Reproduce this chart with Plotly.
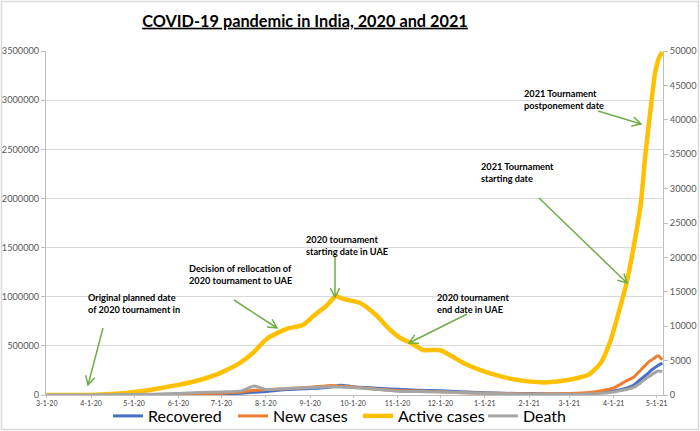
import math
import plotly.graph_objects as go

# ---------------- data ----------------
active_dates = ["2020-03-01", "2020-03-15", "2020-03-30", "2020-04-15", "2020-05-03", "2020-05-20",
                "2020-05-31", "2020-06-16", "2020-06-30", "2020-07-14", "2020-07-23", "2020-08-02",
                "2020-08-16", "2020-08-27", "2020-09-03", "2020-09-13", "2020-09-19", "2020-09-24",
                "2020-10-06", "2020-10-17", "2020-10-27", "2020-11-03", "2020-11-10", "2020-11-19",
                "2020-12-01", "2020-12-17", "2021-01-01", "2021-01-17", "2021-02-02", "2021-02-14",
                "2021-02-28", "2021-03-14", "2021-03-23", "2021-03-30", "2021-04-05", "2021-04-10",
                "2021-04-13", "2021-04-20", "2021-04-23", "2021-04-27", "2021-04-30", "2021-05-03",
                "2021-05-05"]
active_cases = [0, 100, 1000, 9000, 34000, 71000,
                100000, 153000, 222000, 326000, 427000, 575000,
                675000, 712000, 800000, 916000, 1007000, 977000,
                936000, 814000, 661000, 580000, 532000, 458000,
                455000, 326000, 237000, 172000, 136000, 129000,
                153000, 203000, 326000, 560000, 865000, 1140000,
                1350000, 1950000, 2420000, 2930000, 3280000, 3440000,
                3490000]

flow_dates = ["2020-03-01", "2020-03-30", "2020-04-15", "2020-05-01", "2020-05-15", "2020-06-01",
              "2020-06-15", "2020-07-01", "2020-07-15", "2020-07-24", "2020-08-01", "2020-08-15",
              "2020-09-01", "2020-09-16", "2020-09-22", "2020-10-01", "2020-10-15", "2020-11-01",
              "2020-11-15", "2020-12-01", "2020-12-15", "2021-01-01", "2021-01-15", "2021-02-01",
              "2021-02-15", "2021-03-01", "2021-03-15", "2021-04-01", "2021-04-10", "2021-04-15",
              "2021-04-20", "2021-04-25", "2021-04-28", "2021-05-02", "2021-05-05"]
new_cases = [0, 200, 1000, 2000, 3900, 8000,
             11000, 18500, 30000, 48000, 55000, 64000,
             78000, 97000, 90000, 81000, 64000, 46000,
             40000, 32000, 24000, 19000, 15000, 11000,
             11600, 15500, 26000, 72000, 145000, 180000,
             255000, 330000, 360000, 400000, 357000]
recovered = [0, 50, 200, 1000, 2500, 4500,
             7000, 12000, 18000, 28000, 35000, 55000,
             65000, 82000, 100000, 85000, 72000, 58000,
             48000, 42000, 32000, 22000, 17000, 14000,
             11000, 12000, 17000, 40000, 70000, 100000,
             160000, 220000, 260000, 300000, 325000]
death = [0, 10, 40, 80, 120, 230,
         350, 450, 600, 1300, 800, 950,
         1050, 1200, 1150, 1100, 850, 550,
         500, 450, 350, 250, 180, 120,
         100, 110, 150, 450, 800, 1100,
         1800, 2600, 3000, 3500, 3400]

tick_dates = ["2020-03-01", "2020-04-01", "2020-05-01", "2020-06-01", "2020-07-01", "2020-08-01",
              "2020-09-01", "2020-10-01", "2020-11-01", "2020-12-01", "2021-01-01", "2021-02-01",
              "2021-03-01", "2021-04-01", "2021-05-01"]
tick_labels = ["3-1-20", "4-1-20", "5-1-20", "6-1-20", "7-1-20", "8-1-20", "9-1-20", "10-1-20",
               "11-1-20", "12-1-20", "1-1-21", "2-1-21", "3-1-21", "4-1-21", "5-1-21"]

left_ticks = [0, 500000, 1000000, 1500000, 2000000, 2500000, 3000000, 3500000]
right_ticks = [0, 5000, 10000, 15000, 20000, 25000, 30000, 35000, 40000, 45000, 50000]

notes = ["Original planned date<br>of 2020 tournament in",
         "Decision of rellocation of<br>2020 tournament to UAE",
         "2020 tournament<br>starting date in UAE",
         "2020 tournament<br>end date in UAE",
         "2021 Tournament<br>starting date",
         "2021 Tournament<br>postponement date"]

# ---------------- layout geometry ----------------
W, H = 700, 431
L, R, T, B = 46, 663, 51, 395
FONT = "Lato"


def px_x(x):
    return (x - L) / (R - L)


def px_y(y):
    return (B - y) / (B - T)


fig = go.Figure()
fig.add_trace(go.Scatter(x=flow_dates, y=recovered, name="Recovered", mode="lines",
                         line=dict(color="#4472C4", width=3, shape="spline", smoothing=0.6)))
fig.add_trace(go.Scatter(x=flow_dates, y=new_cases, name="New cases", mode="lines",
                         line=dict(color="#ED7D31", width=3, shape="spline", smoothing=0.6)))
fig.add_trace(go.Scatter(x=active_dates, y=active_cases, name="Active cases", mode="lines",
                         line=dict(color="#FFC000", width=4.5, shape="spline", smoothing=0.6)))
fig.add_trace(go.Scatter(x=flow_dates, y=death, name="Death", mode="lines", yaxis="y2",
                         line=dict(color="#A5A5A5", width=3, shape="spline", smoothing=0.6)))

# text notes
note_pos = [(86, 303), (187, 274.5), (304, 245), (435, 303), (479, 172), (522, 99)]
for txt, (x, y) in zip(notes, note_pos):
    fig.add_annotation(text="<b>" + txt + "</b>", xref="paper", yref="paper",
                       x=px_x(x), y=px_y(y), xanchor="left", yanchor="middle",
                       showarrow=False, align="left",
                       font=dict(family=FONT, size=9.2, color="#000000"))

# green arrows with open heads
arrows = [((103, 328), (88, 385)), ((234, 300), (277, 328)), ((335, 256), (335, 297)),
          ((467, 314), (409, 343)), ((539, 198), (627, 283)), ((598, 111), (641, 124))]
shapes = []
for (x0, y0), (x1, y1) in arrows:
    dx, dy = x1 - x0, y1 - y0
    d = math.hypot(dx, dy)
    ux, uy = dx / d, dy / d
    hl, ang = 10, math.radians(28)
    pts = []
    for s in (1, -1):
        ca, sa = math.cos(s * ang), math.sin(s * ang)
        bx = -(ux * ca - uy * sa) * hl
        by = -(ux * sa + uy * ca) * hl
        pts.append((x1 + bx, y1 + by))
    path = "M {} {} L {} {} M {} {} L {} {} L {} {}".format(
        px_x(x0), px_y(y0), px_x(x1), px_y(y1),
        px_x(pts[0][0]), px_y(pts[0][1]), px_x(x1), px_y(y1), px_x(pts[1][0]), px_y(pts[1][1]))
    shapes.append(dict(type="path", xref="paper", yref="paper", path=path,
                       line=dict(color="#70AD47", width=1.5)))

# chart border
shapes.append(dict(type="rect", xref="paper", yref="paper",
                   x0=px_x(1.5), x1=px_x(W - 1.5), y0=px_y(H - 1.5), y1=px_y(1.5),
                   line=dict(color="#D9D9D9", width=1.5), layer="below"))

fig.update_layout(
    width=W, height=H,
    margin=dict(l=L, r=W - R, t=T, b=H - B, pad=0, autoexpand=False),
    paper_bgcolor="white", plot_bgcolor="white",
    font=dict(family=FONT, color="#595959"),
    title=dict(text="<b><u>COVID-19 pandemic in India, 2020 and 2021</u></b>",
               x=305 / W, xref="container", xanchor="center",
               y=1 - 21 / H, yref="container", yanchor="middle",
               font=dict(family=FONT, size=16.3, color="#000000")),
    xaxis=dict(type="date", range=["2020-02-29 12:00", "2021-05-05 12:00"],
               tickvals=tick_dates, ticktext=tick_labels, tickangle=0, automargin=False,
               tickfont=dict(size=7, family=FONT, color="#404040"),
               showgrid=False, showline=True, linecolor="#BFBFBF", linewidth=1,
               ticks="outside", ticklen=2, tickcolor="#BFBFBF", zeroline=False),
    yaxis=dict(range=[0, 3500000], tickvals=left_ticks, ticktext=[str(v) for v in left_ticks],
               tickfont=dict(size=9.2, family=FONT, color="#595959"), automargin=False,
               showgrid=True, gridcolor="#D9D9D9", gridwidth=1,
               showline=True, linecolor="#BFBFBF", ticks="outside", ticklen=4,
               tickcolor="#BFBFBF", zeroline=False),
    yaxis2=dict(range=[0, 50000], overlaying="y", side="right", tickvals=right_ticks,
                ticktext=[str(v) for v in right_ticks], automargin=False,
                tickfont=dict(size=9.2, family=FONT, color="#595959"),
                showgrid=False, showline=True, linecolor="#BFBFBF", ticks="outside",
                ticklen=4, tickcolor="#BFBFBF", zeroline=False),
    legend=dict(orientation="h", x=px_x(108), xanchor="left", y=px_y(416), yanchor="middle",
                font=dict(family=FONT, size=16, color="#000000"), bgcolor="rgba(0,0,0,0)",
                itemwidth=30, tracegroupgap=0, entrywidth=80, entrywidthmode="pixels"),
    shapes=shapes,
    showlegend=True,
)

fig.write_html("out.html", config={"displayModeBar": False},
               post_script="document.body.style.margin='0px';")
